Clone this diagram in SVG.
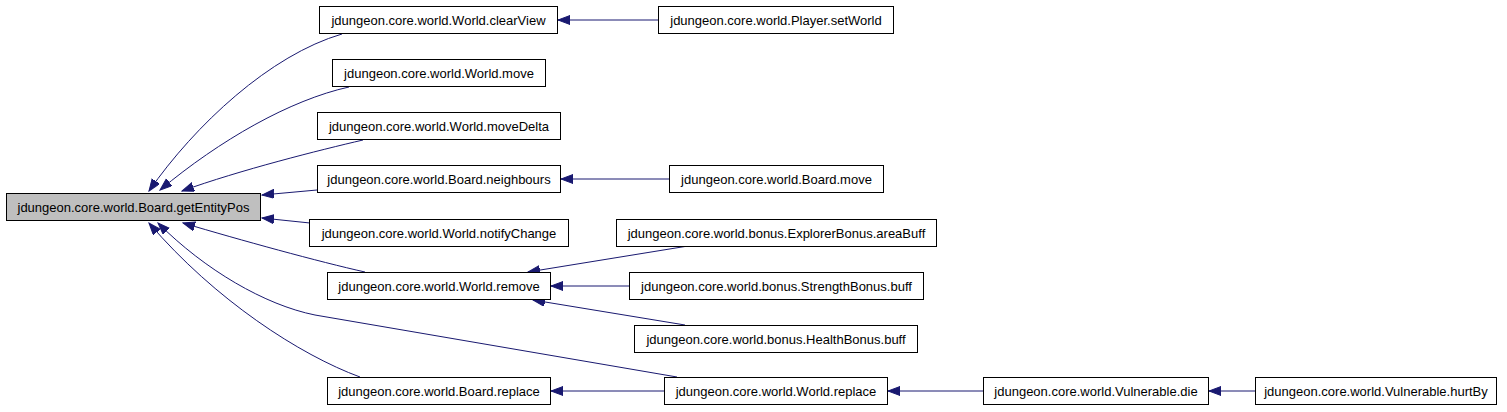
<svg xmlns="http://www.w3.org/2000/svg" width="1507" height="412" viewBox="0 0 1507 412">
<defs>
<style>
.node rect{fill:#ffffff;stroke:#000000;stroke-width:1}
.node.main rect{fill:#bfbfbf}
.node text{font-family:"Liberation Sans",Arial,sans-serif;font-size:13px;fill:#000000;text-anchor:middle}
.edges path{fill:none;stroke:#191970;stroke-width:1;marker-end:url(#arr)}
</style>
<marker id="arr" markerUnits="userSpaceOnUse" markerWidth="13" markerHeight="10" refX="12" refY="4.5" orient="auto">
<path d="M0,0 L12,4.5 L0,9 Z" fill="#191970" stroke="#191970" stroke-width="1"/>
</marker>
</defs>
<rect width="1507" height="412" fill="#ffffff"/>
<g class="edges">
<path d="M342,34 C270,55 195,125 149,191"/>
<path d="M349,87 C290,100 220,140 160,190"/>
<path d="M363,140 C320,150 240,170 182,191"/>
<path d="M317,190 L262,195"/>
<path d="M310,223 L262,218"/>
<path d="M365,272 C320,262 240,240 183,223"/>
<path d="M677,377 L315,315 C265,305 205,270 158,223"/>
<path d="M360,377 C300,355 215,300 149,223"/>
<path d="M658,20 L558,20"/>
<path d="M669,179 L561,179"/>
<path d="M688,246 L528,272"/>
<path d="M629,286 L551,286"/>
<path d="M685,325 L533,300"/>
<path d="M664,391 L551,391"/>
<path d="M983,391 L888,391"/>
<path d="M1255,391 L1209,391"/>
</g>
<g id="n_getEntityPos" class="node main"><rect x="6.5" y="193.5" width="254" height="27"/><text x="133.5" y="211.5">jdungeon.core.world.Board.getEntityPos</text></g>
<g id="n_clearView" class="node"><rect x="319.5" y="6.5" width="238" height="27"/><text x="438.5" y="24.5">jdungeon.core.world.World.clearView</text></g>
<g id="n_worldMove" class="node"><rect x="332.5" y="59.5" width="213" height="27"/><text x="439" y="77.5">jdungeon.core.world.World.move</text></g>
<g id="n_moveDelta" class="node"><rect x="317.5" y="112.5" width="243" height="27"/><text x="439" y="130.5">jdungeon.core.world.World.moveDelta</text></g>
<g id="n_neighbours" class="node"><rect x="317.5" y="165.5" width="243" height="27"/><text x="439" y="183.5">jdungeon.core.world.Board.neighbours</text></g>
<g id="n_notifyChange" class="node"><rect x="309.5" y="219.5" width="259" height="27"/><text x="439" y="237.5">jdungeon.core.world.World.notifyChange</text></g>
<g id="n_remove" class="node"><rect x="327.5" y="272.5" width="223" height="27"/><text x="439" y="290.5">jdungeon.core.world.World.remove</text></g>
<g id="n_boardReplace" class="node"><rect x="327.5" y="377.5" width="223" height="27"/><text x="439" y="395.5">jdungeon.core.world.Board.replace</text></g>
<g id="n_setWorld" class="node"><rect x="658.5" y="6.5" width="235" height="27"/><text x="776" y="24.5">jdungeon.core.world.Player.setWorld</text></g>
<g id="n_boardMove" class="node"><rect x="669.5" y="165.5" width="214" height="27"/><text x="776.5" y="183.5">jdungeon.core.world.Board.move</text></g>
<g id="n_areaBuff" class="node"><rect x="616.5" y="219.5" width="320" height="27"/><text x="776.5" y="237.5">jdungeon.core.world.bonus.ExplorerBonus.areaBuff</text></g>
<g id="n_strengthBuff" class="node"><rect x="629.5" y="272.5" width="294" height="27"/><text x="776.5" y="290.5">jdungeon.core.world.bonus.StrengthBonus.buff</text></g>
<g id="n_healthBuff" class="node"><rect x="634.5" y="325.5" width="283" height="27"/><text x="776" y="343.5">jdungeon.core.world.bonus.HealthBonus.buff</text></g>
<g id="n_worldReplace" class="node"><rect x="664.5" y="377.5" width="223" height="27"/><text x="776" y="395.5">jdungeon.core.world.World.replace</text></g>
<g id="n_die" class="node"><rect x="983.5" y="377.5" width="225" height="27"/><text x="1096" y="395.5">jdungeon.core.world.Vulnerable.die</text></g>
<g id="n_hurtBy" class="node"><rect x="1255.5" y="377.5" width="241" height="27"/><text x="1376" y="395.5">jdungeon.core.world.Vulnerable.hurtBy</text></g>
</svg>
